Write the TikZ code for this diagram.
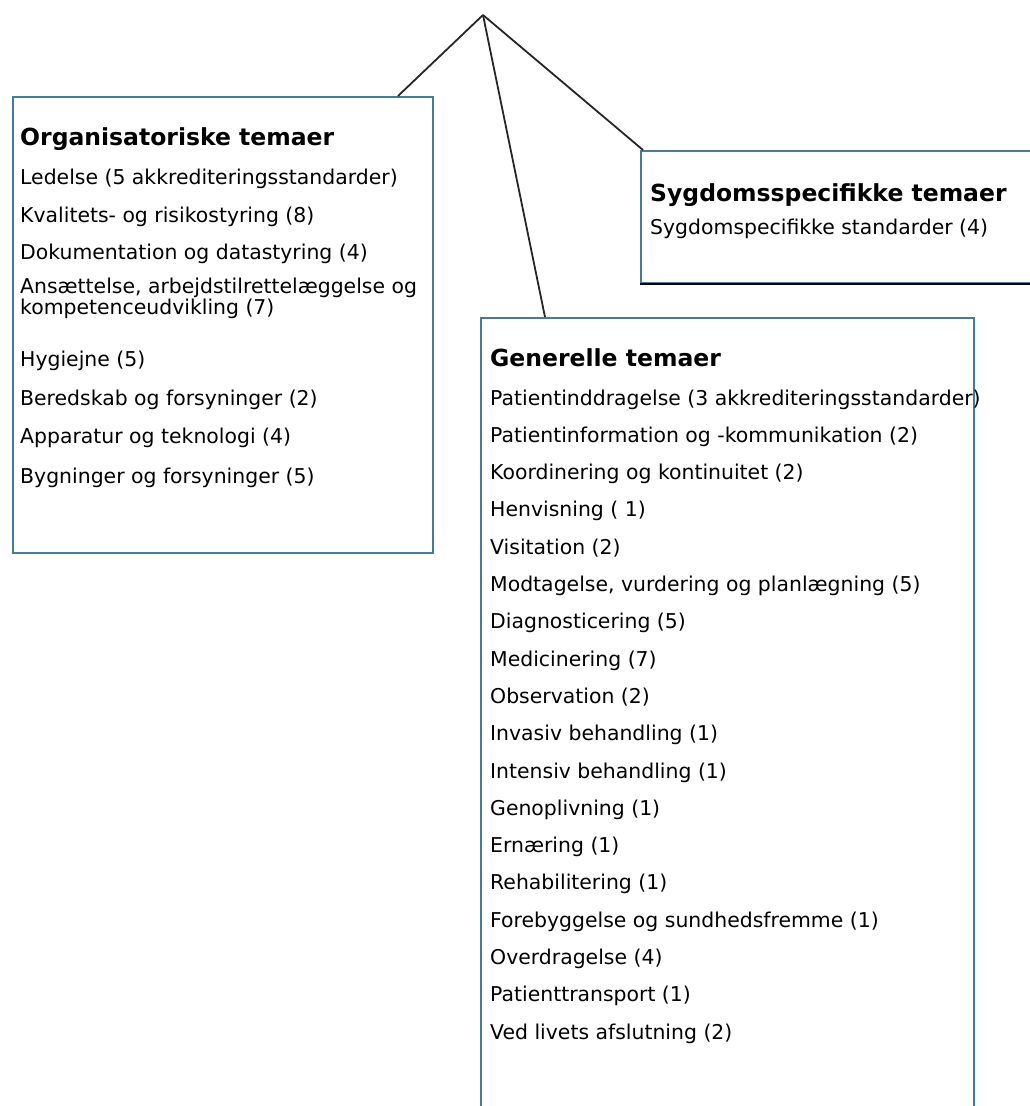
\documentclass[tikz,border=0pt]{standalone}
\usepackage{fontspec}
\setmainfont{DejaVu Sans}
\usepackage{tikz}
\usetikzlibrary{positioning}
\definecolor{boxblue}{RGB}{70,125,150}
\tikzstyle{box} = [draw=boxblue, line width=2pt, anchor=north west, rectangle, inner sep=0pt]
\tikzstyle{conn} = [line width=1.8pt, black!85]
\tikzstyle{head} = [anchor=base west, inner sep=0pt, font=\fontsize{23.5}{25}\selectfont\bfseries]
\tikzstyle{item} = [anchor=base west, inner sep=0pt, font=\fontsize{20.4}{17}\selectfont, align=left]

\begin{document}
\begin{tikzpicture}[x=1pt, y=-1pt]
    \useasboundingbox (0,0) rectangle (1030,1106);

    \node[box, minimum width=420pt, minimum height=456pt] (org) at (12,96) {};
    \node[box, minimum width=420pt, minimum height=132pt] (syg) at (640,150) {};
    \node[box, minimum width=493pt, minimum height=820pt] (gen) at (480,317) {};
    \draw[line width=2.2pt, black] (syg.south west) -- (syg.south east);

    \coordinate (apex) at (483,15);
    \draw[conn] (apex) -- ([xshift=386pt]org.north west);
    \draw[conn] (apex) -- ([xshift=65pt]gen.north west);
    \draw[conn] (apex) -- ([xshift=3pt]syg.north west);

    \node[head] (orghead) at (20,145) {Organisatoriske temaer};
    \foreach \y/\t [count=\i] in {184/Ledelse (5 akkrediteringsstandarder),
            222/Kvalitets- og risikostyring (8),
            259/Dokumentation og datastyring (4),
            314/{Ansættelse, arbejdstilrettelæggelse og\\kompetenceudvikling (7)},
            366/Hygiejne (5),
            405/Beredskab og forsyninger (2),
            443/Apparatur og teknologi (4),
            483/Bygninger og forsyninger (5)}
        \node[item] (org-\i) at (20,\y) {\t};

    \node[head] (syghead) at (650,201) {Sygdomsspecifikke temaer};
    \node[item] (syg-1) at (650,234) {Sygdomspecifikke standarder (4)};

    \node[head] (genhead) at (490,366) {Generelle temaer};
    \foreach \t [count=\i] in {Patientinddragelse (3 akkrediteringsstandarder),
            Patientinformation og -kommunikation (2),
            Koordinering og kontinuitet (2),
            Henvisning ( 1),
            Visitation (2),
            {Modtagelse, vurdering og planlægning (5)},
            Diagnosticering (5),
            Medicinering (7),
            Observation (2),
            Invasiv behandling (1),
            Intensiv behandling (1),
            Genoplivning (1),
            Ernæring (1),
            Rehabilitering (1),
            Forebyggelse og sundhedsfremme (1),
            Overdragelse (4),
            Patienttransport (1),
            Ved livets afslutning (2)}
        \node[item] (gen-\i) at (490,{405+37.3*(\i-1)}) {\t};
\end{tikzpicture}
\end{document}
